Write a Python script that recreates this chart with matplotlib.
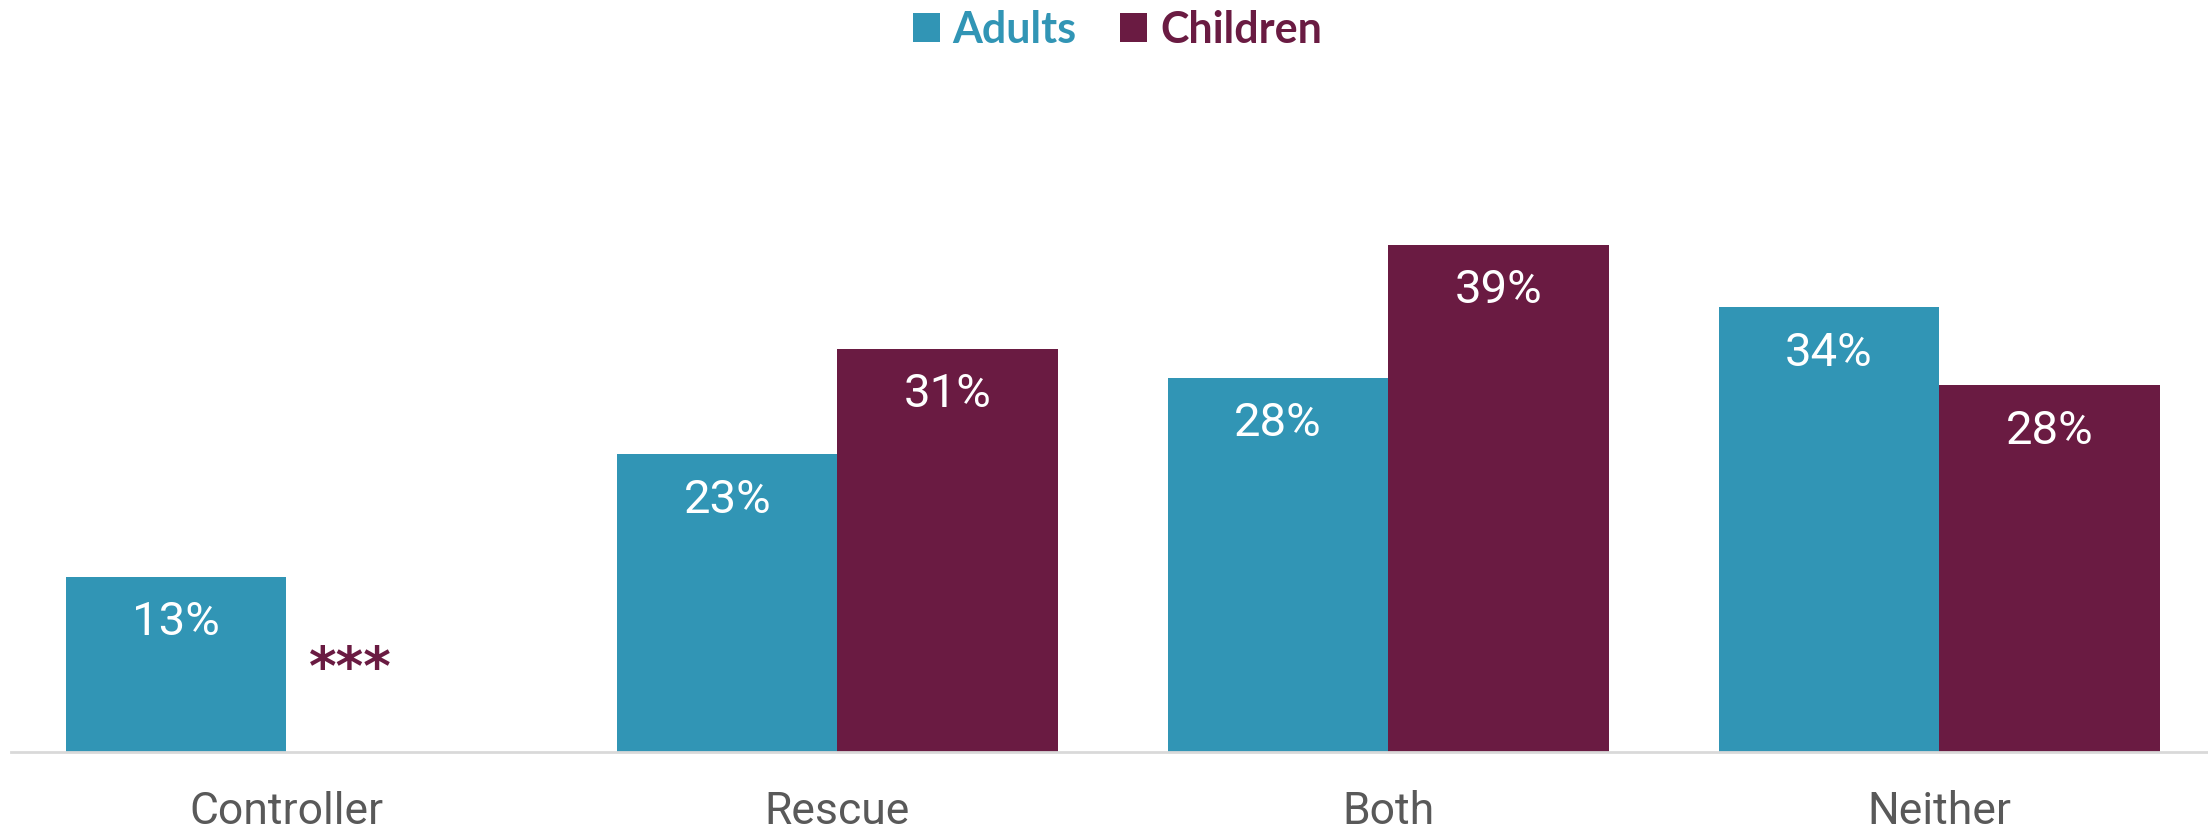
import matplotlib
matplotlib.use('Agg')
import matplotlib.pyplot as plt
import numpy as np

# data (bar heights in %, labels as printed)
categories = ['Controller', 'Rescue', 'Both', 'Neither']
adults = [13.5, 22.9, 28.8, 34.2]
children = [np.nan, 31.0, 39.0, 28.2]
adults_labels = ['13%', '23%', '28%', '34%']
children_labels = ['***', '31%', '39%', '28%']

teal = '#3195B5'
maroon = '#6A1B42'

fig = plt.figure(figsize=(22.08, 8.31), dpi=100)
ax = fig.add_axes([0.005, 0.095, 0.998, 0.704])

x = np.arange(len(categories))
w = 0.4
b1 = ax.bar(x - w / 2, adults, w, color=teal, label='Adults')
b2 = ax.bar(x + w / 2, children, w, color=maroon, label='Children')

ax.set_xlim(-0.5, 3.5)
ax.set_ylim(0, 45)

# value labels inside the top of each bar
for bars, labels in [(b1, adults_labels), (b2, children_labels)]:
    for rect, lab in zip(bars, labels):
        h = rect.get_height()
        if np.isnan(h):
            continue
        ax.annotate(lab, (rect.get_x() + rect.get_width() / 2, h),
                    xytext=(0, -42), textcoords='offset points',
                    ha='center', va='baseline', color='white',
                    fontsize=34, family='Roboto')

# no children value for Controller
ax.text(0.116, 6.3, children_labels[0], ha='center', va='center',
        color=maroon, fontsize=38, fontweight='bold', family='DejaVu Sans')

# axis styling
for s in ['top', 'right', 'left']:
    ax.spines[s].set_visible(False)
ax.spines['bottom'].set_color('#D9D9D9')
ax.spines['bottom'].set_linewidth(2)
ax.set_yticks([])
ax.set_xticks(x)
ax.set_xticklabels(categories, fontsize=32, color='#595959', family='Roboto')
ax.tick_params(axis='x', length=0, pad=28)

leg = fig.legend(loc='upper center', bbox_to_anchor=(0.506, 1.035), ncol=2,
                 frameon=False, prop={'family': 'Lato', 'weight': 'bold', 'size': 31},
                 labelcolor=[teal, maroon], handlelength=0.63, handleheight=0.63,
                 handletextpad=0.3, columnspacing=1.0)

fig.savefig('out.png', dpi=100)
